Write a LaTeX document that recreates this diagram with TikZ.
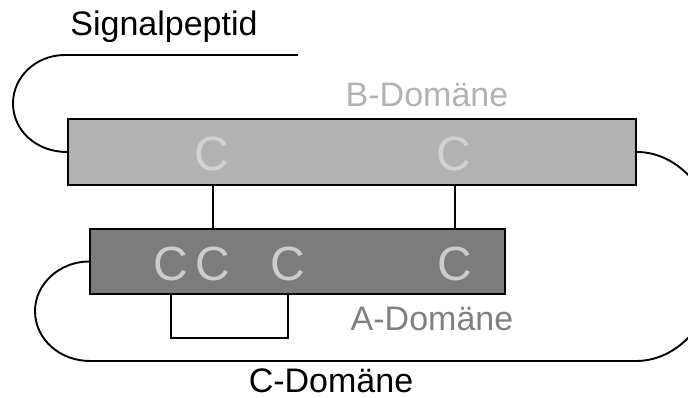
\documentclass[tikz,border=0pt]{standalone}
\usepackage{fontspec}
\setmainfont{Liberation Sans}
\definecolor{bfill}{HTML}{B2B2B2}
\definecolor{afill}{HTML}{7C7C7C}
\definecolor{cletB}{HTML}{D2D2D2}
\definecolor{cletA}{HTML}{CCCCCC}
\definecolor{blabel}{HTML}{B2B2B2}
\definecolor{alabel}{HTML}{808080}
\begin{document}
\begin{tikzpicture}[x=1pt,y=-1pt,
  line width=1.9pt,
  domainbox/.style={draw=black, rectangle, inner sep=0pt},
  clet/.style={inner sep=0pt, anchor=base, font=\fontsize{48}{54}\selectfont},
  lbl/.style={inner sep=0pt, anchor=base, font=\fontsize{34}{40}\selectfont}]
\useasboundingbox (0,0) rectangle (688,398);
\clip (0,0) rectangle (688,398);
% domains
\node[domainbox, fill=bfill, minimum width=568pt, minimum height=66pt] (bdom) at (352,152) {};
\node[domainbox, fill=afill, minimum width=415pt, minimum height=65pt] (adom) at (297.5,261.5) {};
% cysteines
\node[clet, text=cletB] (cb1) at (212,171) {C};
\node[clet, text=cletB] (cb2) at (454,171) {C};
\node[clet, text=cletA] (ca1) at (171,280) {C};
\node[clet, text=cletA] (ca2) at (213,280) {C};
\node[clet, text=cletA] (ca3) at (288,280) {C};
\node[clet, text=cletA] (ca4) at (455,280) {C};
% labels
\node[lbl] (sig) at (164,36) {Signalpeptid};
\node[lbl, text=blabel] (blab) at (427,107) {B-Domäne};
\node[lbl, text=alabel] (alab) at (432,330) {A-Domäne};
\node[lbl] (clab) at (331,392) {C-Domäne};
% disulfide bridges
\draw (bdom.south -| ca2) -- (adom.north -| ca2);
\draw (bdom.south -| ca4) -- (adom.north -| ca4);
\coordinate (brl) at (171,338);
\coordinate (brr) at (288,338);
\draw (adom.south -| brl) -- (brl) -- (brr) -- (adom.south -| brr);
% signal peptide chain
\coordinate (spend) at (298,55);
\draw (spend) -- (65,55) .. controls (36,55) and (13,76.7) .. (13,103.5)
      .. controls (13,130.3) and (36,152) .. (bdom.west);
% C-domain chain
\coordinate (cstart) at (636,361);
\coordinate (cend) at (90,361);
\draw (bdom.east) .. controls (682,152) and (719,198.8) .. (719,256.5)
      .. controls (719,314.2) and (682,361) .. (cstart) -- (cend)
      .. controls (59.6,361) and (35,339) .. (35,311)
      .. controls (35,284) and (59.6,261.5) .. (adom.west);
\end{tikzpicture}
\end{document}
